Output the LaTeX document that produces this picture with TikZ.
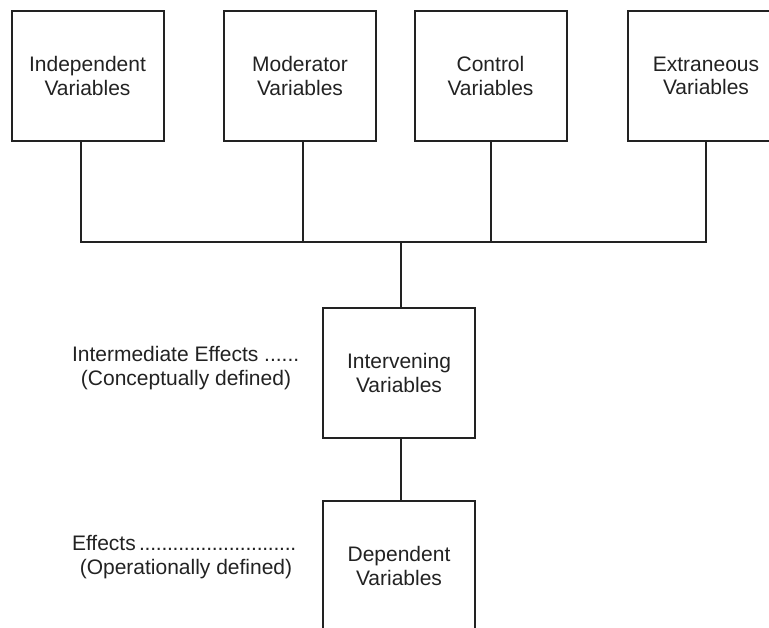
\documentclass[tikz,border=0pt]{standalone}
\usepackage{fontspec}
\setmainfont{Liberation Sans}
\definecolor{ink}{HTML}{222222}
\begin{document}
\begin{tikzpicture}[x=1pt,y=-1pt,
  varbox/.style={draw=ink,line width=2pt,minimum width=152pt,minimum height=130pt,
    inner sep=0pt,align=center,text=ink,font=\fontsize{21}{23.5}\selectfont},
  wire/.style={draw=ink,line width=2pt},
  note/.style={align=center,text=ink,inner sep=0pt,font=\fontsize{21}{24}\selectfont}]
\useasboundingbox (0,0) rectangle (769,627);
\clip (0,0) rectangle (769,627);
\node[varbox] (ind) at (87.5,76) {Independent\\Variables};
\node[varbox] (mod) at (300,76) {Moderator\\Variables};
\node[varbox] (con) at (490.5,76) {Control\\Variables};
\node[varbox,minimum width=156pt] (ext) at (706,76) {Extraneous\\Variables};
\node[varbox] (int) at (399,373) {Intervening\\Variables};
\node[varbox] (dep) at (399,566) {Dependent\\Variables};
\coordinate (j1) at (81,242);
\coordinate (j2) at (303,242);
\coordinate (j3) at (491,242);
\coordinate (j4) at (706,242);
\coordinate (jm) at (401,242);
\draw[wire] (ind.south -| j1) -- (j1) -- (j4) -- (ext.south -| j4);
\draw[wire] (mod.south -| j2) -- (j2);
\draw[wire] (con.south -| j3) -- (j3);
\draw[wire] (jm) -- (int.north -| jm);
\draw[wire] (int.south -| jm) -- (dep.north -| jm);
\node[note] (ie) at (186,368) {\hbox to 228pt{Intermediate Effects ......\hfill}\\(Conceptually defined)};
\node[note] (ef) at (186,557.5) {\hbox to 228pt{Effects\leaders\hbox to 5.6pt{\hss.\hss}\hfill}\\(Operationally defined)};
\end{tikzpicture}
\end{document}
